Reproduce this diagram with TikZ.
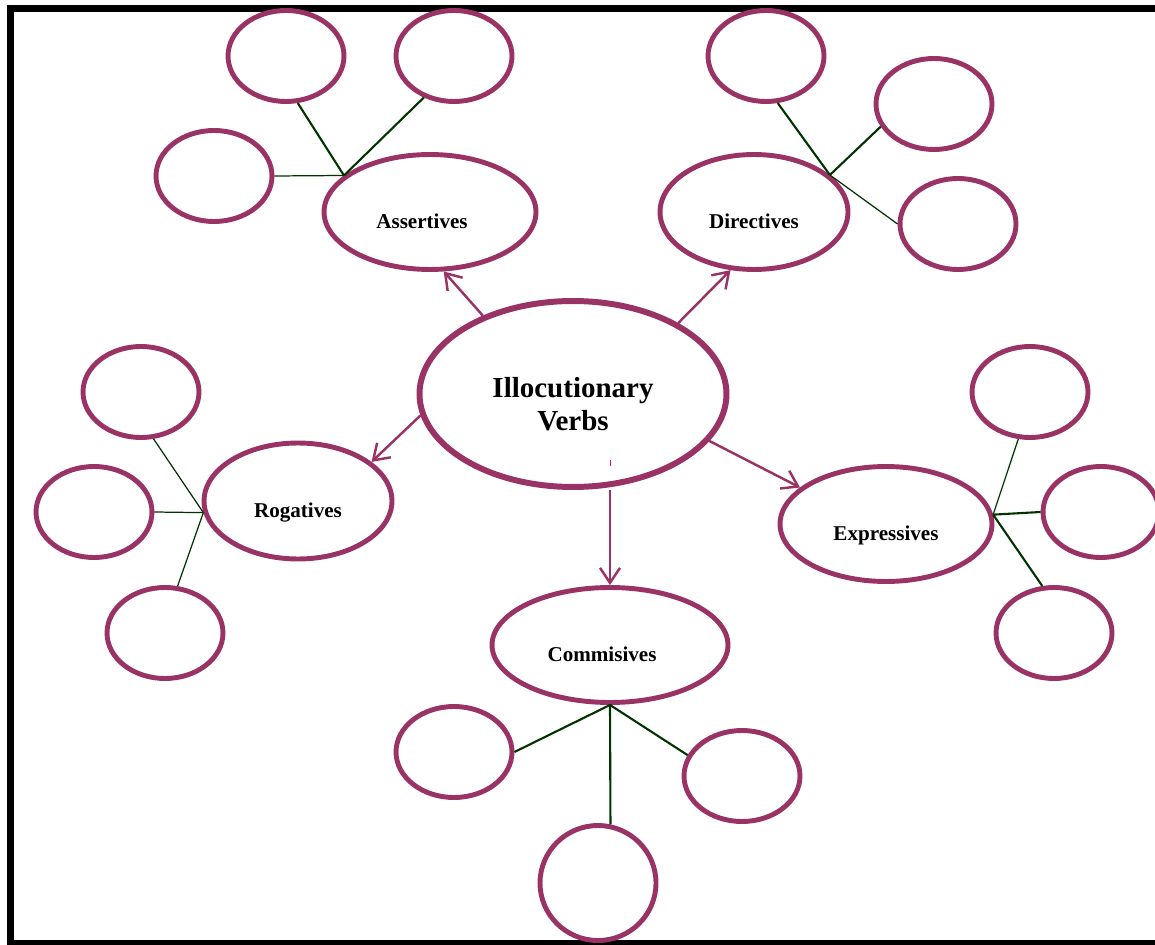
\documentclass[tikz,border=0pt]{standalone}
\usepackage{fontspec}
\setmainfont{Liberation Serif}
\usepackage{tikz}
\usetikzlibrary{arrows.meta,shapes.geometric}
\usepackage{xcolor}
\definecolor{plum}{HTML}{993366}
\definecolor{leaf}{HTML}{003300}
\tikzset{verbnode/.style={ellipse,draw=plum,line width=2.8pt,inner sep=0pt,
  font=\fontsize{12}{14}\selectfont\bfseries,text height=19pt,text depth=0pt}}
\tikzset{blanknode/.style={ellipse,draw=plum,line width=2.8pt,
  minimum width=2.32cm,minimum height=1.82cm}}
\tikzset{link/.style={color=leaf,line width=1.2pt}}
\tikzset{thinlink/.style={color=leaf,line width=0.7pt}}
\tikzset{branch/.style={-{Straight Barb[length=3mm,width=4mm]},color=plum,line width=1.4pt}}

\begin{document}
\begin{tikzpicture}[x=0.02cm,y=-0.02cm]
\useasboundingbox (0,0) rectangle (1155,945);
% frame
\draw[line width=0.14cm] (1180,943) -- (10.5,943) -- (10.5,8.5) -- (1180,8.5);
% centre and the five kinds
\node (ilv) [ellipse,draw=plum,line width=3.4pt,inner sep=0pt,minimum width=6.14cm,minimum height=3.72cm,
  align=center,font=\fontsize{16.5}{18.7}\selectfont\bfseries,text height=41pt,text depth=0pt] at (573,394) {Illocutionary\\Verbs};
\node (asrt) [verbnode,minimum width=4.24cm,minimum height=2.30cm] at (430,212) {Assertives\kern0.32cm};
\node (dirc) [verbnode,minimum width=3.76cm,minimum height=2.30cm] at (754,212) {Directives};
\node (rog) [verbnode,minimum width=3.76cm,minimum height=2.32cm] at (298,501) {Rogatives};
\node (expr) [verbnode,minimum width=4.24cm,minimum height=2.30cm] at (886,524) {Expressives};
\node (comm) [verbnode,minimum width=4.72cm,minimum height=2.30cm] at (610,645) {Commisives\kern0.32cm};
%
\node (a1) [blanknode] at (286,56) {};
\node (a2) [blanknode] at (454,56) {};
\node (a3) [blanknode] at (214,176) {};
\node (d1) [blanknode] at (766,56) {};
\node (d2) [blanknode] at (934,104) {};
\node (d3) [blanknode] at (958,224) {};
\node (r1) [blanknode] at (141,392) {};
\node (r2) [blanknode] at (94,512) {};
\node (r3) [blanknode] at (165,633) {};
\node (e1) [blanknode] at (1030,392) {};
\node (e2) [blanknode] at (1101,512) {};
\node (e3) [blanknode] at (1054,633) {};
\node (c1) [blanknode] at (454,752) {};
\node (c2) [blanknode] at (742,776) {};
\node (c3) [blanknode,minimum height=2.30cm] at (598,883) {};
%
\path[branch] (ilv.139) edge (asrt.283);
\path[branch] (ilv.34) edge (dirc.248);
\path[branch] (ilv.188) edge (rog.28);
\path[branch] (ilv.341) edge (expr.157);
\path[branch] (ilv.south -| comm.north) edge (comm.north);
%
\path[link] (asrt.157) edge (a1.284) edge (a2.234);
\path[thinlink] (asrt.157) edge (a3.east);
\path[link] (dirc.26) edge (d1.284) edge (d2.203);
\path[thinlink] (dirc.26) edge (d3.west);
\path[thinlink] (rog.187) edge (r1.285) edge (r2.east) edge (r3.75);
\path[thinlink] (expr.5) edge (e1.256);
\path[link] (expr.5) edge (e2.west) edge (e3.104);
\path[link] (comm.south) edge (c1.east) edge (c2.159) edge (c3.78);
%
\draw[magenta,line width=0.5pt] (610,460) -- (610,466);
\end{tikzpicture}
\end{document}
